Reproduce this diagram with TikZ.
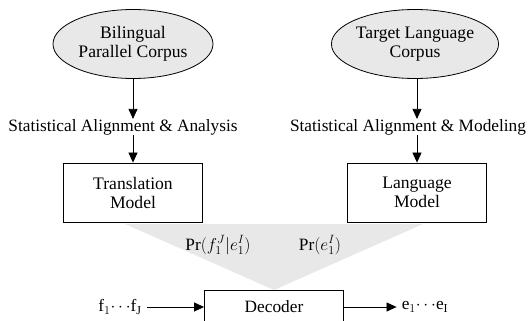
\documentclass[tikz,border=0pt]{standalone}
\usepackage{fontspec}
\setmainfont{Liberation Serif}
\usetikzlibrary{shapes.geometric,arrows.meta}
\tikzset{
  corpus/.style={ellipse,draw,fill=gray!18,line width=0.8pt,minimum width=160pt,minimum height=69pt,align=center,font=\fontsize{17.6}{19}\selectfont,inner sep=0pt},
  modelbox/.style={rectangle,draw,line width=0.8pt,minimum width=139pt,minimum height=59pt,align=center,font=\fontsize{17.6}{19}\selectfont,inner sep=0pt},
  lbl/.style={font=\fontsize{17.3}{17.3}\selectfont,inner sep=0pt},
  arr/.style={line width=0.8pt,-{Triangle[length=10pt,width=9pt]}},
}
\begin{document}
\begin{tikzpicture}[x=1pt,y=-1pt]
\useasboundingbox (0,0) rectangle (531,321);
\begin{scope}
\clip (0,0) rectangle (531,321);
% gray funnel
\fill[gray!18] (125,224) -- (423,224) -- (274,290) -- cycle;
\node[corpus] (bp) at (133,44) {Bilingual\\Parallel Corpus};
\node[corpus,minimum width=165pt] (tl) at (415,44) {Target Language\\Corpus};
\node[lbl] (sa) at (123,127) {Statistical Alignment \& Analysis};
\node[lbl] (sm) at (408,127) {Statistical Alignment \& Modeling};
\node[modelbox] (tm) at (133,192.5) {Translation\\Model};
\node[modelbox] (lm) at (417,192.5) {Language\\Model};
\node[lbl] (p1) at (218,245) {Pr$(f_1^J|e_1^I)$};
\node[lbl] (p2) at (320,245) {Pr$(e_1^I)$};
\node[modelbox,minimum height=60pt] (dec) at (274,320) {};
\node[lbl] (dect) at (274,307) {Decoder};
\node[lbl] (fin) at (120,307) {f$_1{\cdots}$f$_{\mathrm{J}}$};
\node[lbl] (eout) at (425,307) {e$_1{\cdots}$e$_{\mathrm{I}}$};
\coordinate (decl) at (dec.west |- dect);
\coordinate (decr) at (dec.east |- dect);
\draw[arr] (bp.south) -- (bp.south |- sa.north);
\draw[arr] (bp.south |- sa.south) -- (tm.north);
\draw[arr] (tl.south -| lm.north) -- (lm.north |- sm.north);
\draw[arr] (lm.north |- sm.south) -- (lm.north);
\draw[arr] ([xshift=5pt]fin.east) -- (decl);
\draw[arr] (decr) -- ([xshift=-5pt]eout.west);
\end{scope}
\end{tikzpicture}
\end{document}
